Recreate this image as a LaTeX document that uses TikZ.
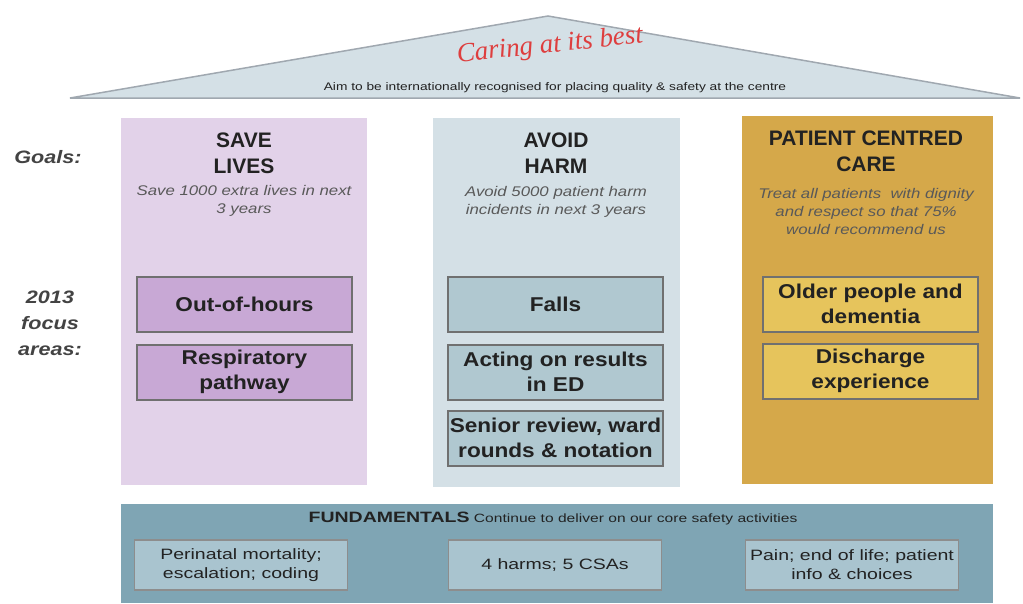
\documentclass[tikz,border=0pt]{standalone}
\usepackage{fontspec}
\setmainfont{Liberation Sans}
\newfontfamily\handfont{Liberation Serif}
\usetikzlibrary{positioning}

\definecolor{lilac}{RGB}{226,210,233}
\definecolor{lilacbox}{RGB}{200,168,213}
\definecolor{mist}{RGB}{212,224,230}
\definecolor{mistbox}{RGB}{176,200,208}
\definecolor{mustard}{RGB}{213,168,74}
\definecolor{mustardbox}{RGB}{230,196,92}
\definecolor{steel}{RGB}{127,165,180}
\definecolor{steelbox}{RGB}{169,196,207}
\definecolor{roofgrey}{RGB}{160,168,176}
\definecolor{boxgrey}{RGB}{112,112,112}
\definecolor{inkgrey}{RGB}{34,34,34}
\definecolor{caringred}{RGB}{222,62,62}

\begin{document}
\begin{tikzpicture}[x=1pt,y=-1pt,
  every node/.style={text=inkgrey},
  goal/.style={font=\fontsize{21}{26}\selectfont\bfseries,align=center},
  aim/.style={font=\fontsize{14}{18}\selectfont\itshape,align=center,xscale=1.2,text=inkgrey!75},
  side/.style={font=\fontsize{18}{26}\selectfont\bfseries\itshape,align=center,xscale=1.2,text=inkgrey!85},
  focus/.style={draw=boxgrey,line width=2pt,minimum width=190pt,minimum height=55pt,inner sep=0pt,%
    font=\fontsize{20}{25}\selectfont\bfseries,align=center,xscale=1.13},
  core/.style={draw=boxgrey!80,line width=1.5pt,fill=steelbox,minimum width=164pt,minimum height=50pt,%
    inner sep=0pt,font=\fontsize{15}{19}\selectfont,align=center,xscale=1.3}]
\useasboundingbox (0,0) rectangle (1023,603);

\draw[draw=roofgrey,line width=1.5pt,fill=mist] (70,98) -- (548,16) -- (1020,98) -- cycle;
\node[font=\handfont\itshape\fontsize{27}{27}\selectfont,text=caringred,rotate=6] (caring) at (550,46) {Caring at its best};
\node[font=\fontsize{11}{13}\selectfont,xscale=1.25] (aimline) at (555,88)
  {Aim to be internationally recognised for placing quality \& safety at the centre};

\node[side] (goalslbl) at (48,157) {Goals:};
\node[side] (focuslbl) at (50,323) {2013\\focus\\areas:};

\draw[draw=white,fill=lilac] (120,117) rectangle (367,485);
\draw[draw=white,fill=mist] (432,117) rectangle (680,487);
\draw[draw=white,fill=mustard] (741,115) rectangle (993,484);

\node[goal] (savelives) at (244,153) {SAVE\\LIVES};
\node[aim] (saveaim) at (244,201) {Save 1000 extra lives in next\\3 years};
\node[goal] (avoidharm) at (556,153) {AVOID\\HARM};
\node[aim] (avoidaim) at (556,202) {Avoid 5000 patient harm\\incidents in next 3 years};
\node[goal] (patientcare) at (866,151) {PATIENT CENTRED\\CARE};
\node[aim] (careaim) at (866,211) {Treat all patients\ \ with dignity\\and respect so that 75\%\\would recommend us};

\node[focus,fill=lilacbox] (outofhours) at (244.5,304.5) {Out-of-hours};
\node[focus,fill=lilacbox] (respiratory) at (244.5,372) {Respiratory\\pathway};
\node[focus,fill=mistbox] (falls) at (555.5,304.5) {Falls};
\node[focus,fill=mistbox] (actingED) at (555.5,372) {Acting on results\\in ED};
\node[focus,fill=mistbox] (seniorreview) at (555.5,438) {Senior review, ward\\rounds \& notation};
\node[focus,fill=mustardbox] (olderpeople) at (870.5,304) {Older people and\\dementia};
\node[focus,fill=mustardbox] (discharge) at (870.5,371) {Discharge\\experience};

\draw[draw=white,fill=steel] (120,503) rectangle (993,603);
\node[font=\fontsize{12}{14}\selectfont,xscale=1.3] (fundamentals) at (553,518)
  {{\fontsize{15}{17}\selectfont\bfseries FUNDAMENTALS} Continue to deliver on our core safety activities};
\node[core] (perinatal) at (241,565) {Perinatal mortality;\\escalation; coding};
\node[core] (harms) at (555,565) {4 harms; 5 CSAs};
\node[core] (pain) at (852,565) {Pain; end of life; patient\\info \& choices};
\end{tikzpicture}
\end{document}
